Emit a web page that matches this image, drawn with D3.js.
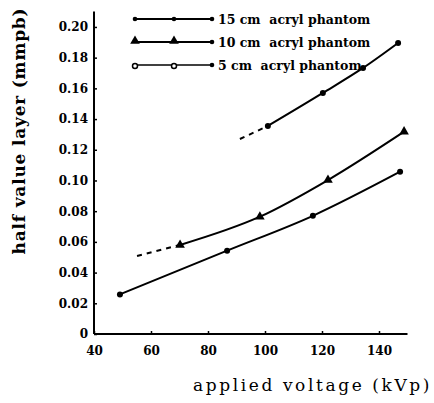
<!DOCTYPE html>
<html>
<head>
<meta charset="utf-8">
<script src="https://cdn.jsdelivr.net/npm/d3@7"></script>
<style>
  body { margin: 0; background: #fff; }
  svg text { font-family: "DejaVu Serif", serif; }
</style>
</head>
<body>
<svg width="434" height="403"></svg>
<script>
// values
var xTicks = [40, 60, 80, 100, 120, 140];
var yTicks = [0, 0.02, 0.04, 0.06, 0.08, 0.10, 0.12, 0.14, 0.16, 0.18, 0.20];

var cm15 = [[101, 0.1355], [120.3, 0.157], [134.4, 0.1733], [146.7, 0.1896]];
var cm15Dash = [[91.2, 0.127], [101, 0.1355]];

var cm10 = [[70.2, 0.058], [98.2, 0.0764], [122.1, 0.1003], [148.8, 0.1318]];
var cm10Dash = [[55.1, 0.0508], [70.2, 0.058]];

var cm5 = [[49.1, 0.0258], [86.7, 0.0543], [116.8, 0.077], [147.4, 0.1057]];

var legendLabels = ['15 cm  acryl phantom', '10 cm  acryl phantom', '5 cm  acryl phantom'];

var svg = d3.select('svg');

var x = d3.scaleLinear().domain([40, 150]).range([94, 407.5]);
var y = d3.scaleLinear().domain([0, 0.21]).range([334, 11.6]);

// axes
var xAxis = svg.append('g')
  .attr('transform', 'translate(0,' + y(0) + ')')
  .call(d3.axisBottom(x).tickValues(xTicks).tickSize(-3).tickPadding(12).tickFormat(d3.format('d')));
var yAxis = svg.append('g')
  .attr('transform', 'translate(' + x(40) + ',0)')
  .call(d3.axisLeft(y).tickValues(yTicks).tickSize(-3).tickPadding(6)
    .tickFormat(d => d === 0 ? '0' : d3.format('.2f')(d)));

[xAxis, yAxis].forEach(g => {
  g.attr('font-family', null);
  g.select('.domain').attr('stroke', '#000').attr('stroke-width', 2);
  g.selectAll('.tick line').attr('stroke', '#000').attr('stroke-width', 1.5);
  g.selectAll('.tick text')
    .attr('fill', '#000')
    .style('font-size', '12px')
    .style('font-weight', 'bold');
});
// the axes meet in the corner
xAxis.select('.domain').attr('d', 'M' + x(40) + ',0H' + x(150));
yAxis.select('.domain').attr('d', 'M0,' + y(0) + 'V' + y(0.21));

var line = d3.line()
  .x(d => x(d[0]))
  .y(d => y(d[1]))
  .curve(d3.curveMonotoneX);

function drawSeries(pts, dash) {
  svg.append('path')
    .datum(pts)
    .attr('d', line)
    .attr('fill', 'none')
    .attr('stroke', '#000')
    .attr('stroke-width', 2)
    .attr('stroke-dasharray', dash ? '5,5' : null);
}

drawSeries(cm15Dash, true);
drawSeries(cm15, false);
drawSeries(cm10Dash, true);
drawSeries(cm10, false);
drawSeries(cm5, false);

var tri = d3.symbol().type(d3.symbolTriangle).size(40);

svg.selectAll('.m15').data(cm15).enter().append('circle')
  .attr('cx', d => x(d[0])).attr('cy', d => y(d[1])).attr('r', 3).attr('fill', '#000');
svg.selectAll('.m10').data(cm10).enter().append('path')
  .attr('d', tri)
  .attr('transform', d => 'translate(' + x(d[0]) + ',' + y(d[1]) + ')')
  .attr('fill', '#000');
svg.selectAll('.m5').data(cm5).enter().append('circle')
  .attr('cx', d => x(d[0])).attr('cy', d => y(d[1])).attr('r', 3).attr('fill', '#000');

// legend
var legendY = [19, 42, 65];
var legend = svg.selectAll('.legend').data(legendLabels).enter().append('g')
  .attr('transform', (d, i) => 'translate(0,' + legendY[i] + ')');

legend.append('line')
  .attr('x1', 134).attr('x2', 213).attr('y1', 0).attr('y2', 0)
  .attr('stroke', '#000').attr('stroke-width', (d, i) => i === 2 ? 1.5 : 2);

legend.each(function(d, i) {
  var g = d3.select(this);
  [135, 174, 212].forEach((px, j) => {
    if (i === 1 && j < 2) {
      g.append('path').attr('d', tri).attr('transform', 'translate(' + px + ',-1)').attr('fill', '#000');
    } else if (i === 2 && j < 2) {
      g.append('circle').attr('cx', px).attr('cy', 1).attr('r', 2.5)
        .attr('fill', '#fff').attr('stroke', '#000').attr('stroke-width', 1.5);
    } else {
      g.append('circle').attr('cx', px).attr('cy', 0).attr('r', 2.3).attr('fill', '#000');
    }
  });
});

legend.append('text')
  .attr('x', 218).attr('y', 5)
  .attr('fill', '#000')
  .style('font-size', '12.5px')
  .style('font-weight', 'bold')
  .style('white-space', 'pre')
  .text(d => d);

// axis titles
svg.append('text')
  .attr('transform', 'translate(25,131) rotate(-90)')
  .attr('text-anchor', 'middle')
  .attr('fill', '#000')
  .style('font-size', '17px')
  .style('font-weight', 'bold')
  .style('letter-spacing', '0.8px')
  .text('half value layer (mmpb)');

svg.append('text')
  .attr('x', 193).attr('y', 391)
  .attr('fill', '#000')
  .style('font-size', '17px')
  .style('letter-spacing', '2.6px')
  .text('applied voltage (kVp)');
</script>
</body>
</html>
